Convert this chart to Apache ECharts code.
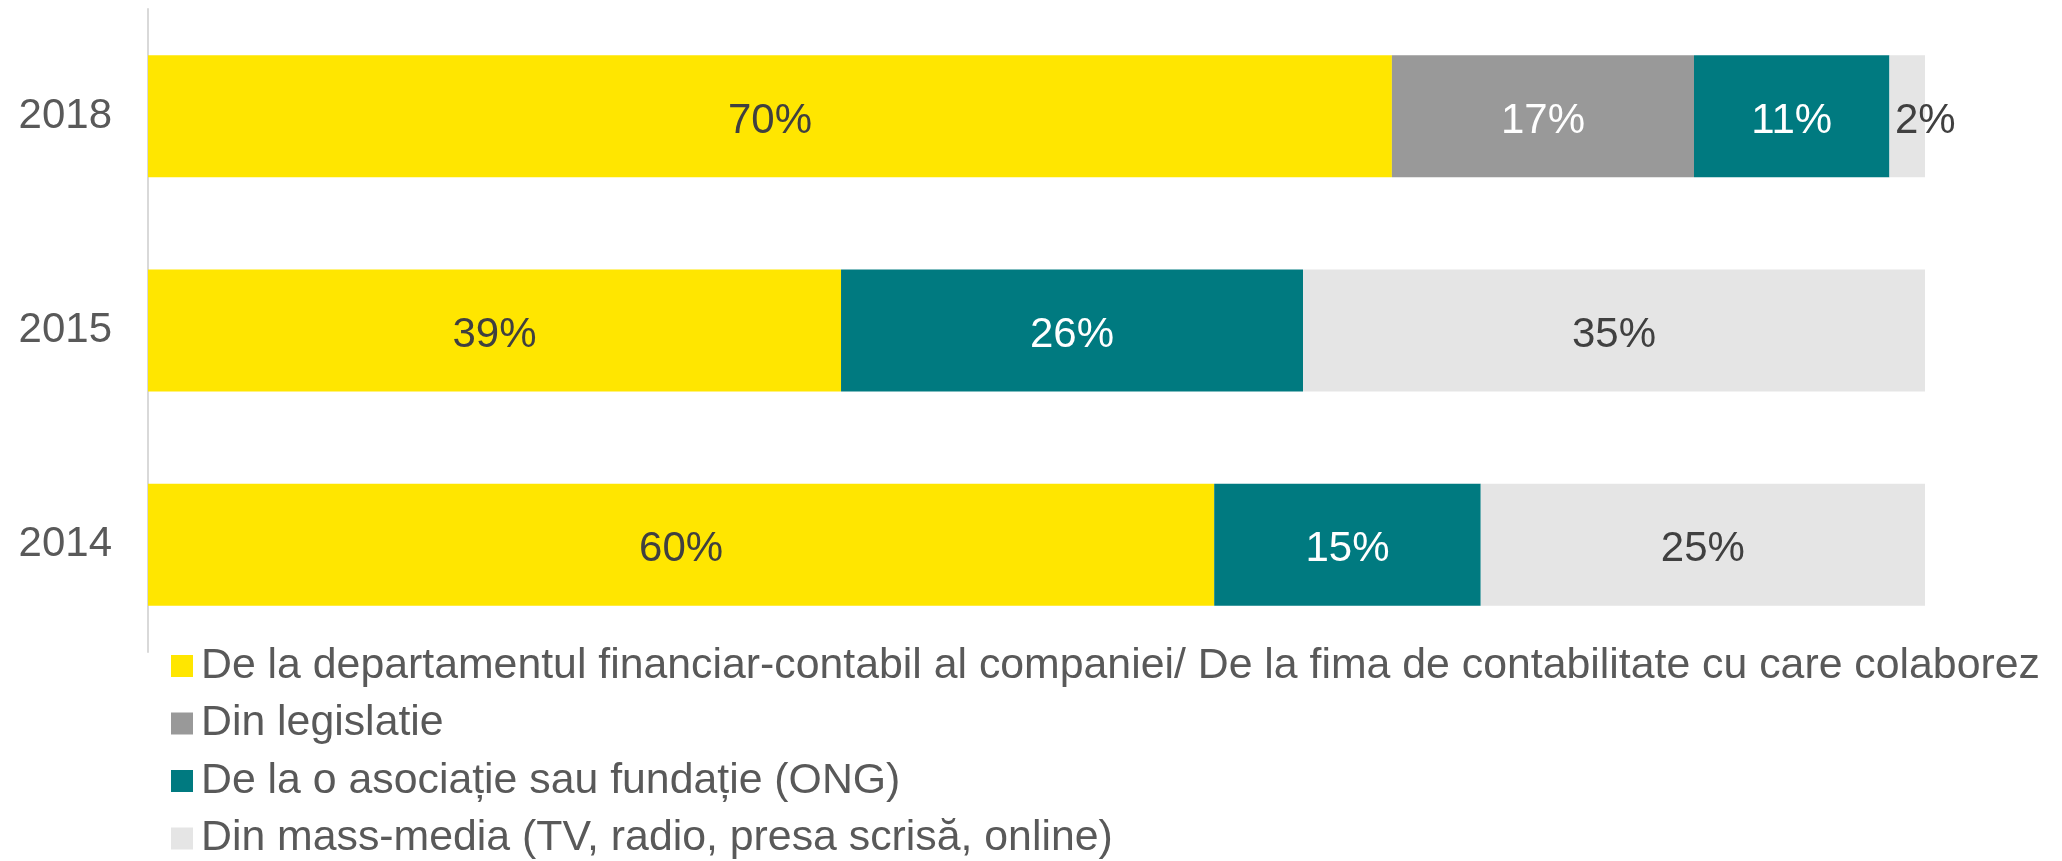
<!DOCTYPE html>
<html>
<head>
<meta charset="utf-8">
<script src="https://cdn.jsdelivr.net/npm/echarts@6/dist/echarts.min.js"></script>
<style>
  html, body { margin: 0; padding: 0; background: #fff; }
  #chart { width: 2062px; height: 861px; }
</style>
</head>
<body>
<div id="chart"></div>
<script>
const years = ["2018", "2015", "2014"];
const seriesNames = [
  "De la departamentul financiar-contabil al companiei/ De la fima de contabilitate cu care colaborez",
  "Din legislatie",
  "De la o asociație sau fundație (ONG)",
  "Din mass-media (TV, radio, presa scrisă, online)"
];
const departament = [70, 39, 60];
const legislatie = [17, 0, 0];
const ong = [11, 26, 15];
const massMedia = [2, 35, 25];

const colors = ["#FFE600", "#999999", "#007A80", "#E5E5E5"];
const labelColors = ["#404040", "#ffffff", "#ffffff", "#404040"];
const values = [departament, legislatie, ong, massMedia];

const chart = echarts.init(document.getElementById("chart"));

const options = {
  animation: false,
  textStyle: { fontFamily: "Liberation Sans, Arial, sans-serif" },
  grid: {
    left: 148,
    right: 137,
    top: 9,
    bottom: 209,
  },
  xAxis: {
    type: "value",
    min: 0,
    max: 100,
    show: false,
  },
  yAxis: {
    type: "category",
    data: years,
    inverse: true,
    axisLine: { lineStyle: { color: "#d9d9d9", width: 2 } },
    axisTick: { show: false },
    axisLabel: {
      color: "#595959",
      fontSize: 42,
      margin: 36,
      padding: [10, 0, 0, 0],
    },
  },
  legend: {
    orient: "vertical",
    left: 171,
    top: 644,
    height: 217,
    padding: 0,
    itemWidth: 22,
    itemHeight: 22,
    itemGap: 13.5,
    icon: "rect",
    data: seriesNames,
    textStyle: {
      color: "#595959",
      fontSize: 42.8,
      lineHeight: 44,
      padding: [0, 0, 0, 3],
    },
  },
  series: values.map((data, i) => ({
    name: seriesNames[i],
    type: "bar",
    stack: "total",
    // small slices get their label nudged right, as in the original
    data: data.map((v) => (v > 0 && v < 5 ? { value: v, label: { offset: [18, 5] } } : v)),
    barWidth: 122,
    itemStyle: { color: colors[i] },
    label: {
      show: true,
      position: "inside",
      color: labelColors[i],
      fontSize: 42,
      offset: [0, 5],
      formatter: (p) => (p.value > 0 ? p.value + "%" : ""),
    },
  })),
};

chart.setOption(options);
</script>
</body>
</html>
